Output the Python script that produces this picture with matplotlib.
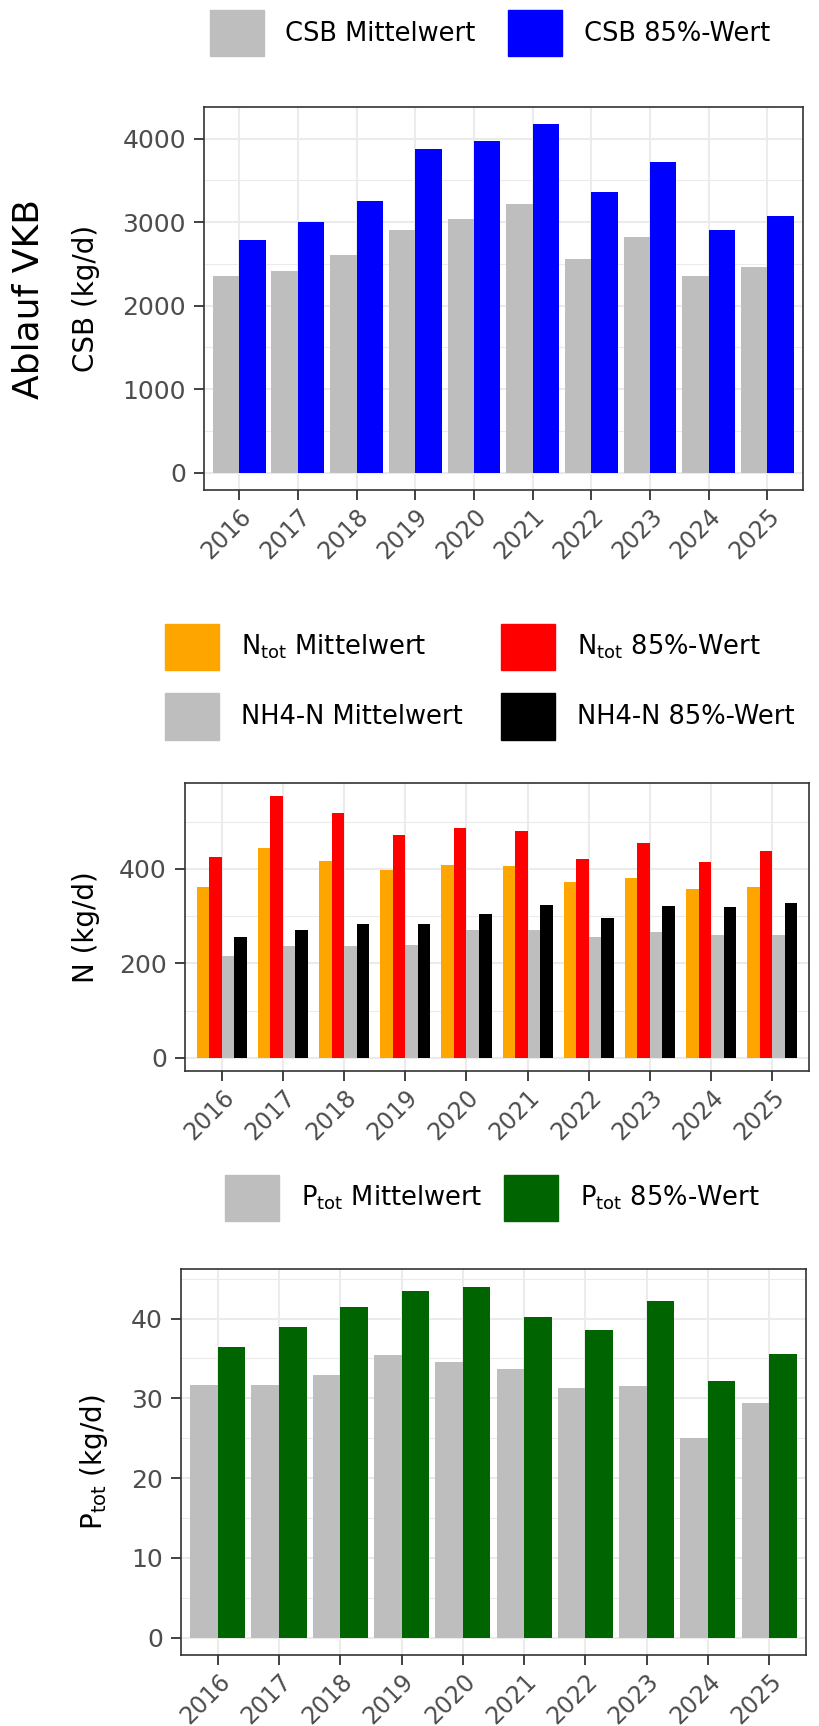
import matplotlib
matplotlib.use('Agg')
import matplotlib.pyplot as plt
import numpy as np
from matplotlib.patches import Patch
from matplotlib.ticker import MultipleLocator

plt.rcParams['font.family'] = ['DejaVu Sans']
plt.rcParams['mathtext.fontset'] = 'dejavusans'

# Jahreswerte Ablauf VKB (kg/d)
years = ['2016', '2017', '2018', '2019', '2020', '2021', '2022', '2023', '2024', '2025']

csb_mean = [2360, 2415, 2610, 2900, 3040, 3220, 2560, 2820, 2360, 2465]
csb_85 = [2780, 3000, 3250, 3880, 3970, 4170, 3355, 3725, 2910, 3070]

ntot_mean = [362, 444, 417, 397, 409, 405, 373, 380, 358, 361]
ntot_85 = [425, 554, 519, 471, 487, 480, 420, 455, 414, 437]
nh4_mean = [216, 237, 236, 239, 270, 270, 256, 267, 259, 259]
nh4_85 = [256, 270, 283, 284, 305, 324, 296, 321, 320, 327]

ptot_mean = [31.7, 31.7, 32.9, 35.4, 34.5, 33.7, 31.3, 31.5, 25.0, 29.4]
ptot_85 = [36.4, 39.0, 41.4, 43.4, 44.0, 40.2, 38.6, 42.2, 32.2, 35.6]

GREY = '#BEBEBE'
x = np.arange(len(years))

fig = plt.figure(figsize=(8.19, 17.26), dpi=100)


def style_axis(ax, ymax, major, minor):
    # ggplot-artiger theme_bw Look
    ax.set_xlim(-0.6, len(years) - 0.4)
    ax.set_ylim(-0.05 * ymax, 1.05 * ymax)
    ax.set_xticks(x)
    ax.set_xticklabels(years, rotation=45, ha='right', va='top',
                       rotation_mode='anchor')
    ax.yaxis.set_major_locator(MultipleLocator(major))
    ax.yaxis.set_minor_locator(MultipleLocator(minor))
    ax.grid(which='major', color='#EBEBEB', lw=1.5)
    ax.grid(which='minor', axis='y', color='#EBEBEB', lw=0.8)
    ax.tick_params(which='minor', length=0)
    ax.tick_params(which='major', length=7, width=1.3, color='#333333',
                   labelcolor='#4D4D4D')
    ax.tick_params(axis='y', labelsize=18, pad=6)
    ax.tick_params(axis='x', labelsize=17, pad=3)
    for s in ax.spines.values():
        s.set_color('#333333')
        s.set_linewidth(1.2)
    ax.set_axisbelow(True)


def add_legend(ax, handles, left, y, colsp):
    ax.legend(handles=handles, loc='center left', bbox_to_anchor=(left, y),
              bbox_transform=fig.transFigure, ncol=2, frameon=False,
              fontsize=18.5, handlelength=2.1, handleheight=2.4,
              handletextpad=0.85, columnspacing=colsp, labelspacing=0.9,
              borderpad=0, borderaxespad=0)


# --- CSB ---
ax1 = fig.add_axes([0.249, 0.7161, 0.731, 0.2219])
w = 0.45
ax1.bar(x - w / 2, csb_mean, w, color=GREY)
ax1.bar(x + w / 2, csb_85, w, color='#0000FF')
style_axis(ax1, max(csb_85), 1000, 500)
ax1.set_ylabel('CSB (kg/d)', fontsize=20)
ax1.yaxis.set_label_coords(-0.174, 0.5)
fig.text(0.035, 0.827, 'Ablauf VKB', rotation=90, fontsize=26,
         ha='center', va='center')
add_legend(ax1, [Patch(color=GREY, label='CSB Mittelwert'),
                 Patch(color='#0000FF', label='CSB 85%-Wert')],
           0.256, 0.981, 1.25)

# --- Stickstoff ---
ax2 = fig.add_axes([0.2259, 0.3795, 0.7619, 0.1669])
w = 0.205
ax2.bar(x - 1.5 * w, ntot_mean, w, color='#FFA500')
ax2.bar(x - 0.5 * w, ntot_85, w, color='#FF0000')
ax2.bar(x + 0.5 * w, nh4_mean, w, color=GREY)
ax2.bar(x + 1.5 * w, nh4_85, w, color='#000000')
style_axis(ax2, max(ntot_85), 200, 100)
ax2.set_ylabel('N (kg/d)', fontsize=20)
ax2.yaxis.set_label_coords(-0.136, 0.5)
add_legend(ax2, [Patch(color='#FFA500', label=r'N$_{\mathrm{tot}}$ Mittelwert'),
                 Patch(color=GREY, label='NH4-N Mittelwert'),
                 Patch(color='#FF0000', label=r'N$_{\mathrm{tot}}$ 85%-Wert'),
                 Patch(color='#000000', label='NH4-N 85%-Wert')],
           0.2015, 0.605, 1.5)

# --- Phosphor ---
ax3 = fig.add_axes([0.221, 0.0411, 0.763, 0.2236])
w = 0.45
ax3.bar(x - w / 2, ptot_mean, w, color=GREY)
ax3.bar(x + w / 2, ptot_85, w, color='#006400')
style_axis(ax3, max(ptot_85), 10, 5)
ax3.set_ylabel(r'P$_{\mathrm{tot}}$ (kg/d)', fontsize=20)
ax3.yaxis.set_label_coords(-0.114, 0.5)
add_legend(ax3, [Patch(color=GREY, label=r'P$_{\mathrm{tot}}$ Mittelwert'),
                 Patch(color='#006400', label=r'P$_{\mathrm{tot}}$ 85%-Wert')],
           0.275, 0.306, 0.85)

fig.savefig('out.png', dpi=100)
